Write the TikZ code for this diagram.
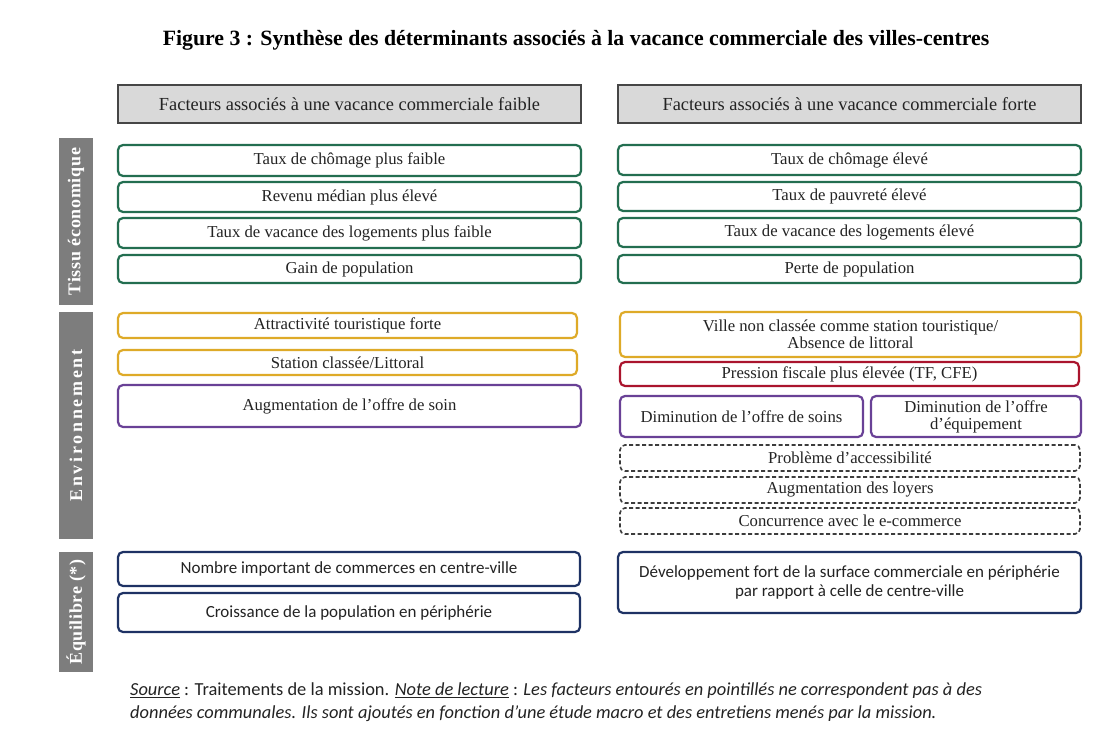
\documentclass[tikz,border=0pt]{standalone}
\usepackage{fontspec}
\setmainfont{Liberation Serif}
\newfontfamily\footfont{Carlito}
\newfontfamily\sideA[LetterSpace=4]{Liberation Serif}
\newfontfamily\sideB[LetterSpace=15]{Liberation Serif}
\newfontfamily\sideC[LetterSpace=3.5]{Liberation Serif}
\definecolor{grn}{RGB}{35,110,80}
\definecolor{gold}{RGB}{222,170,40}
\definecolor{purp}{RGB}{105,65,150}
\definecolor{crim}{RGB}{170,20,45}
\definecolor{navy}{RGB}{30,50,100}
\definecolor{dsh}{RGB}{60,60,60}
\definecolor{sgray}{RGB}{125,125,125}
\definecolor{hfill}{RGB}{217,217,217}
\definecolor{hdr}{RGB}{70,70,70}
\definecolor{txt}{RGB}{35,35,35}
\newcommand\bx[7]{\node[#1, minimum width={(#5-#3)*1pt}, minimum height={(#6-#4)*1pt}] (#2) at ({(#3+#5)/2},{(#4+#6)/2}) {#7};}
\tikzset{
  cbox/.style={draw=#1, line width=2.2pt, rounded corners=5pt, fill=white, inner sep=0pt, align=center, text=txt, font=\fontsize{16.7}{17}\selectfont},
  nbox/.style={draw=navy, line width=2.2pt, rounded corners=5pt, fill=white, inner sep=0pt, align=center, text=txt, font=\footfont\fontsize{17}{19}\selectfont},
  dbox/.style={draw=dsh, dash pattern=on 4pt off 2.5pt, line width=1.6pt, rounded corners=5pt, fill=white, inner sep=0pt, align=center, text=txt, font=\fontsize{16.7}{17}\selectfont},
  headbox/.style={draw=hdr, fill=hfill, line width=1.4pt, inner sep=0pt, text=txt, font=\fontsize{18.4}{19}\selectfont},
  sidebar/.style={fill=sgray, text=white, inner sep=0pt, rotate=90, font=\bfseries\fontsize{18}{19}\selectfont},
  notetext/.style={anchor=west, inner sep=0pt, text=txt, font=\footfont\fontsize{18.4}{19}\selectfont}
}
\begin{document}
\begin{tikzpicture}[x=1pt,y=-1pt]
\useasboundingbox[fill=white] (0,0) rectangle (1097,730);
\node[font=\bfseries\fontsize{21.8}{23}\selectfont, text=black] (title) at (576,40) {Figure 3 : Synthèse des déterminants associés à la vacance commerciale des villes-centres};
% headers
\bx{headbox}{hl}{118}{85}{581}{123}{Facteurs associés à une vacance commerciale faible}
\bx{headbox}{hr}{618}{85}{1081}{123}{Facteurs associés à une vacance commerciale forte}
% sidebars
\node[sidebar, minimum width=167pt, minimum height=34pt] (s1) at (76,221.5) {\sideA\bfseries Tissu économique};
\node[sidebar, minimum width=227pt, minimum height=34pt] (s2) at (76,425.5) {\sideB\bfseries Environnement};
\node[sidebar, minimum width=120pt, minimum height=34pt] (s3) at (76,612) {\sideC\bfseries Équilibre (*)};
% left column
\bx{cbox=grn}{l1}{118}{145}{581}{176}{Taux de chômage plus faible}
\bx{cbox=grn}{l2}{118}{182}{581}{212}{Revenu médian plus élevé}
\bx{cbox=grn}{l3}{118}{218}{581}{248}{Taux de vacance des logements plus faible}
\bx{cbox=grn}{l4}{118}{255}{581}{283}{Gain de population}
\bx{cbox=gold}{l5}{118}{313}{577}{338}{Attractivité touristique forte}
\bx{cbox=gold}{l6}{118}{350}{577}{375}{Station classée/Littoral}
\bx{cbox=purp}{l7}{118}{385}{581}{427}{Augmentation de l’offre de soin}
\bx{nbox}{l8}{118}{552}{580}{586}{Nombre important de commerces en centre-ville}
\bx{nbox}{l9}{118}{593}{580}{632}{Croissance de la population en périphérie}
% right column
\bx{cbox=grn}{r1}{618}{145}{1081}{175}{Taux de chômage élevé}
\bx{cbox=grn}{r2}{618}{182}{1081}{211}{Taux de pauvreté élevé}
\bx{cbox=grn}{r3}{618}{218}{1081}{247}{Taux de vacance des logements élevé}
\bx{cbox=grn}{r4}{618}{255}{1081}{283}{Perte de population}
\bx{cbox=gold}{r5}{620}{312}{1081}{357}{Ville non classée comme station touristique/\\Absence de littoral}
\bx{cbox=crim}{r6}{620}{362}{1079}{386}{Pression fiscale plus élevée (TF, CFE)}
\bx{cbox=purp}{r7}{620}{396}{863}{437}{Diminution de l’offre de soins}
\bx{cbox=purp}{r8}{871}{396}{1081}{437}{Diminution de l’offre\\d’équipement}
\bx{dbox}{r9}{620}{445}{1080}{471}{Problème d’accessibilité}
\bx{dbox}{r10}{620}{477}{1080}{503}{Augmentation des loyers}
\bx{dbox}{r11}{620}{508}{1080}{534}{Concurrence avec le e-commerce}
\bx{nbox}{r12}{618}{552}{1081}{613}{Développement fort de la surface commerciale en périphérie\\par rapport à celle de centre-ville}
% note
\node[notetext] (n1) at (130,691) {\textit{\underline{Source}} : Traitements de la mission. \textit{\underline{Note de lecture}} : \textit{Les facteurs entourés en pointillés ne correspondent pas à des}};
\node[notetext] (n2) at (130,714) {\textit{données communales. Ils sont ajoutés en fonction d’une étude macro et des entretiens menés par la mission.}};
\end{tikzpicture}
\end{document}
